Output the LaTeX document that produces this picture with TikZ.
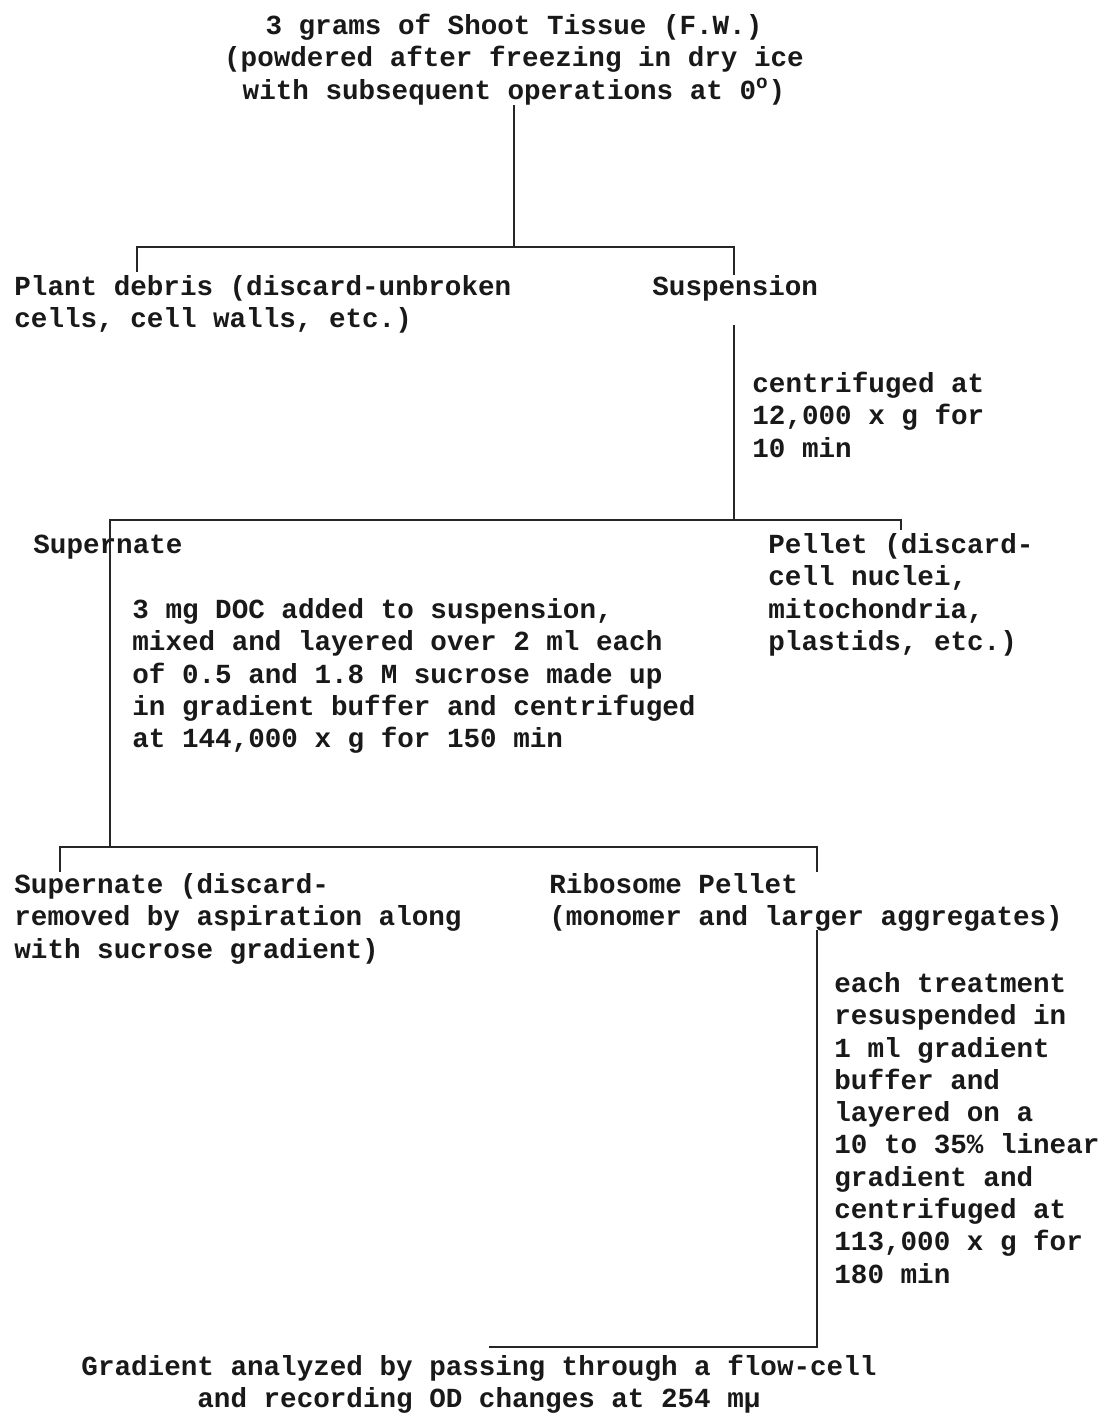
\documentclass[tikz,border=0pt]{standalone}
\usepackage{fontspec}
\setmonofont{Liberation Mono}
\usetikzlibrary{positioning}
\newcommand{\typed}{\ttfamily\bfseries\fontsize{13.8}{16.15}\selectfont}
\tikzset{
	notes/.style={anchor=north west, inner sep=0pt, align=left, font=\typed, text=black!90},
	heading/.style={anchor=north, inner sep=0pt, align=center, font=\typed, text=black!90},
	branch/.style={line width=1pt, black!85}
}
\begin{document}
\begin{tikzpicture}[x=0.5pt,y=-0.5pt]
	\useasboundingbox[fill=white] (0,0) rectangle (1104,1416);
	% texts (y = baseline - 22.6)
	\node[heading] (tissue) at (514,11.4) {\strut 3 grams of Shoot Tissue (F.W.)\\(powdered after freezing in dry ice\\with subsequent operations at 0\textsuperscript{o})};
	\node[notes] (debris) at (14,272.4) {\strut Plant debris (discard-unbroken\\cells, cell walls, etc.)};
	\node[notes] (suspension) at (652,272.4) {\strut Suspension};
	\node[notes] (spinA) at (752,369.4) {\strut centrifuged at\\12,000 x g for\\10 min};
	\node[notes] (superA) at (33,530.4) {\strut Supernate};
	\node[notes] (pelletA) at (768,530.4) {\strut Pellet (discard-\\cell nuclei,\\mitochondria,\\plastids, etc.)};
	\node[notes] (docstep) at (132,595.4) {\strut 3 mg DOC added to suspension,\\mixed and layered over 2 ml each\\of 0.5 and 1.8 M sucrose made up\\in gradient buffer and centrifuged\\at 144,000 x g for 150 min};
	\node[notes] (superB) at (14,870.4) {\strut Supernate (discard-\\removed by aspiration along\\with sucrose gradient)};
	\node[notes] (ribosome) at (549,870.4) {\strut Ribosome Pellet\\(monomer and larger aggregates)};
	\node[notes] (treatstep) at (834,969.4) {\strut each treatment\\resuspended in\\1 ml gradient\\buffer and\\layered on a\\10 to 35\% linear\\gradient and\\centrifuged at\\113,000 x g for\\180 min};
	\node[heading] (result) at (479,1352) {\strut Gradient analyzed by passing through a flow-cell\\and recording OD changes at 254 mμ};
	% branch points
	\coordinate (forkA) at (514,247);
	\coordinate (dropDebris) at (137,272);
	\coordinate (dropSusp) at (734,275);
	\coordinate (spinTop) at (734,325);
	\coordinate (forkB) at (734,520);
	\coordinate (dropPellet) at (901,530);
	\coordinate (forkC) at (110,847);
	\coordinate (dropSuper) at (60,872);
	\coordinate (dropRibo) at (817,872);
	\coordinate (treatTop) at (817,930);
	\coordinate (treatEnd) at (489,1347);
	% connectors
	\draw[branch] (tissue.south -| forkA) -- (forkA);
	\draw[branch] (dropDebris) -- (dropDebris |- forkA) -- (dropSusp |- forkA) -- (dropSusp);
	\draw[branch] (spinTop) -- (forkB);
	\draw[branch] (forkC) -- (forkC |- forkB) -- (dropPellet |- forkB) -- (dropPellet);
	\draw[branch] (dropSuper) -- (dropSuper |- forkC) -- (dropRibo |- forkC) -- (dropRibo);
	\draw[branch] (treatTop) -- (treatTop |- treatEnd) -- (treatEnd);
\end{tikzpicture}
\end{document}
